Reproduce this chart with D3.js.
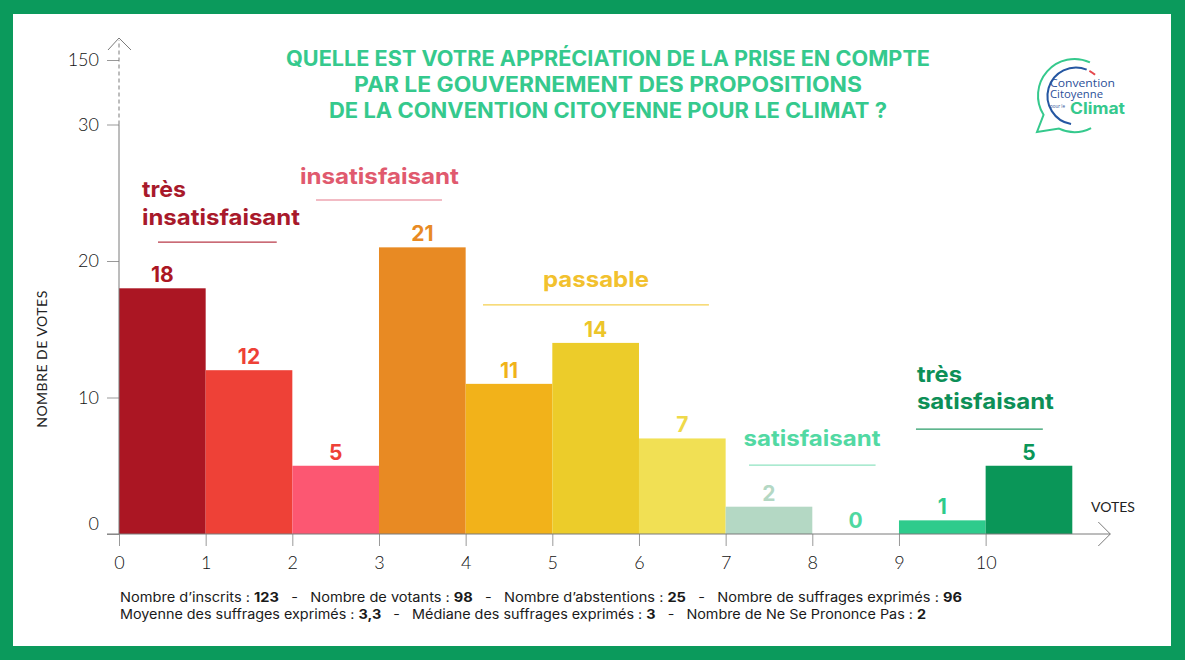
<!DOCTYPE html>
<html><head><meta charset="utf-8">
<script src="https://cdn.jsdelivr.net/npm/d3@7"></script>
<style>body{margin:0;background:#fff;} svg{display:block;}</style>
</head><body>
<svg id="c" width="1185" height="660"></svg>
<script>
// ---------- DATA ----------
const bins = [0,1,2,3,4,5,6,7,8,9,10];
const votes = [18,12,5,21,11,14,7,2,0,1,5];
const barColors = ["#ab1623","#ee4137","#fc5772","#e88a23","#f2b21a","#eccc2a","#f1e054","#b4d8c4","#4fd8a0","#2ecb8c","#0a9658"];
const labelColors = ["#ab1623","#ee4137","#ee4137","#e88a23","#f0b31a","#ecc52a","#efd94a","#b4d8c4","#4fd8a0","#2ecb8c","#0a9658"];
const yTicks = [0,10,20,30,150];
const xTicks = [0,1,2,3,4,5,6,7,8,9,10];
const titleLines = ["QUELLE EST VOTRE APPRÉCIATION DE LA PRISE EN COMPTE","PAR LE GOUVERNEMENT DES PROPOSITIONS","DE LA CONVENTION CITOYENNE POUR LE CLIMAT ?"];
const categoryNames = [["très","insatisfaisant"],["insatisfaisant"],["passable"],["satisfaisant"],["très","satisfaisant"]];
const categoryColors = ["#a8192b","#e05a6e","#f2c12e","#52d9a3","#0d8f57"];
const categoryLineColors = ["#b83a48","#eea5b1","#f4cf4e","#8fe3c1","#2a9d68"];
const footer1 = [["Nombre d’inscrits : ",0],["123",1],["   -   Nombre de votants : ",0],["98",1],["   -   Nombre d’abstentions : ",0],["25",1],["   -   Nombre de suffrages exprimés : ",0],["96",1]];
const footer2 = [["Moyenne des suffrages exprimés : ",0],["3,3",1],["   -   Médiane des suffrages exprimés : ",0],["3",1],["   -   Nombre de Ne Se Prononce Pas : ",0],["2",1]];
const yTitle = "NOMBRE DE VOTES";
const xTitle = "VOTES";
const logoLines = ["Convention","Citoyenne","pour le","Climat"];

// ---------- SETUP ----------
const svg = d3.select("#c");
const W = 1185, H = 660;
const BOLD = "Inter, 'Open Sans', sans-serif";
const LIGHT = "Lato, 'Open Sans', sans-serif";

svg.append("rect").attr("width",W).attr("height",H).attr("fill","#0b9a5c");
svg.append("rect").attr("x",13).attr("y",14).attr("width",1158).attr("height",632).attr("fill","#fff");

const x = d3.scaleLinear().domain([0,11]).range([119,1072.3]);
const y = d3.scaleLinear().domain([0,30,150]).range([534,124.5,60]);

function fit(sel, w){ sel.attr("textLength",w).attr("lengthAdjust","spacingAndGlyphs"); return sel; }

// ---------- TITLE ----------
const titleW = [644,508,558];
titleLines.forEach((t,i)=>{
  fit(svg.append("text").attr("x",608).attr("y",66+i*26).attr("text-anchor","middle")
    .attr("font-family",BOLD).attr("font-weight",700).attr("font-size",21)
    .attr("fill","#35c98d").text(t), titleW[i]);
});

// ---------- BARS ----------
const data = bins.map((b,i)=>({bin:b,v:votes[i],c:barColors[i],lc:labelColors[i]}));
svg.append("g").selectAll("rect").data(data).join("rect")
  .attr("x",d=>x(d.bin)).attr("width",d=>x(d.bin+1)-x(d.bin))
  .attr("y",d=>y(d.v)).attr("height",d=>y(0)-y(d.v)).attr("fill",d=>d.c);
svg.append("g").selectAll("text").data(data).join("text")
  .attr("x",d=>x(d.bin+0.5)).attr("y",d=>y(d.v)-6).attr("text-anchor","middle")
  .attr("font-family",BOLD).attr("font-weight",700).attr("font-size",21)
  .attr("fill",d=>d.lc).text(d=>d.v);

// ---------- AXES ----------
const axisCol = "#7a7a7a";
const gy = svg.append("g").attr("transform",`translate(${x(0)},0)`)
  .call(d3.axisLeft(y).tickValues(yTicks).tickSize(12).tickPadding(8).tickFormat(d=>d));
gy.select(".domain").remove();
gy.selectAll(".tick line").attr("stroke","#999");
gy.selectAll(".tick text").attr("font-family",LIGHT).attr("font-weight",300).attr("font-size",18).attr("fill","#111");
gy.selectAll(".tick").filter(d=>d===0).select("text").attr("dy","-0.25em");
svg.append("line").attr("x1",x(0)).attr("x2",x(0)).attr("y1",y(0)).attr("y2",y(30)).attr("stroke",axisCol);
svg.append("line").attr("x1",x(0)).attr("x2",x(0)).attr("y1",y(30)).attr("y2",y(150)-20).attr("stroke",axisCol).attr("stroke-dasharray","4,3");
svg.append("path").attr("d",`M${x(0)-11},${y(150)-10}L${x(0)},${y(150)-22}L${x(0)+12},${y(150)-10}`).attr("fill","none").attr("stroke",axisCol);

const gx = svg.append("g").attr("transform",`translate(0,${y(0)})`)
  .call(d3.axisBottom(x).tickValues(xTicks).tickSize(12).tickPadding(10));
gx.select(".domain").remove();
gx.selectAll(".tick line").attr("stroke","#999");
gx.selectAll(".tick text").attr("font-family",LIGHT).attr("font-weight",300).attr("font-size",18).attr("fill","#111");
svg.append("line").attr("x1",x(0)-12).attr("x2",x(11)+38).attr("y1",y(0)).attr("y2",y(0)).attr("stroke",axisCol);
svg.append("path").attr("d",`M${x(11)+26},${y(0)-12}L${x(11)+38},${y(0)}L${x(11)+26},${y(0)+12}`).attr("fill","none").attr("stroke",axisCol);

svg.append("text").attr("transform",`translate(47,359) rotate(-90)`).attr("text-anchor","middle")
  .attr("font-family",LIGHT).attr("font-weight",400).attr("font-size",14).attr("fill","#222")
  .attr("letter-spacing",0.5).text(yTitle);
svg.append("text").attr("x",1113).attr("y",512).attr("text-anchor","middle")
  .attr("font-family",LIGHT).attr("font-weight",400).attr("font-size",14).attr("fill","#222").text(xTitle);

// ---------- CATEGORY ANNOTATIONS ----------
const catLayout = [
  {tx:0.265, anchor:"start", base:[24.69,22.64], w:[44,158], lx:[0.45,1.82], ly:21.39},
  {tx:3.005, anchor:"middle", base:[25.64], w:[159], lx:[2.273,3.727], ly:24.47},
  {tx:5.504, anchor:"middle", base:[18.10], w:[106], lx:[4.2,6.807], ly:16.78},
  {tx:7.996, anchor:"middle", base:[6.45], w:[137], lx:[7.27,8.73], ly:5.05},
  {tx:9.207, anchor:"start", base:[11.14,9.16], w:[45,137], lx:[9.196,10.66], ly:7.69}
];
categoryNames.forEach((lines,i)=>{
  const L = catLayout[i];
  lines.forEach((t,j)=>{
    fit(svg.append("text").attr("x",x(L.tx)).attr("y",y(L.base[j])).attr("text-anchor",L.anchor)
      .attr("font-family",BOLD).attr("font-weight",700).attr("font-size",22)
      .attr("fill",categoryColors[i]).text(t), L.w[j]);
  });
  svg.append("line").attr("x1",x(L.lx[0])).attr("x2",x(L.lx[1])).attr("y1",y(L.ly)).attr("y2",y(L.ly))
    .attr("stroke",categoryLineColors[i]).attr("stroke-width",1.3);
});

// ---------- FOOTER ----------
function footerLine(parts, yy, w){
  const t = svg.append("text").attr("x",0).attr("y",0)
    .attr("font-family",BOLD).attr("font-size",13).attr("fill","#1a1a1a").attr("xml:space","preserve");
  parts.forEach(p=>t.append("tspan").attr("font-weight",p[1]?700:400).text(p[0]));
  const cw = t.node().getComputedTextLength();
  t.attr("transform",`translate(120,${yy}) scale(${w/cw},1)`);
}
footerLine(footer1, 602, 843);
footerLine(footer2, 619, 807);

// ---------- LOGO ----------
const lg = svg.append("g");
const rad = a=>a*Math.PI/180;
const cx=1074.5, cy=95.5, r=36.5;
const pt=(a)=>[cx+r*Math.cos(rad(a)), cy+r*Math.sin(rad(a))];
let p = d3.path();
let s = pt(-65); p.moveTo(s[0],s[1]);
p.arc(cx,cy,r,rad(-65),rad(148),true);
p.lineTo(1037,132);
let e = pt(115); p.lineTo(e[0],e[1]);
p.arc(cx,cy,r,rad(115),rad(63),true);
lg.append("path").attr("d",p.toString()).attr("fill","none").attr("stroke","#35c98d").attr("stroke-width",2);
const bcx=1076, bcy=96, br=28.5;
let p2 = d3.path();
p2.moveTo(bcx+br*Math.cos(rad(-68)), bcy+br*Math.sin(rad(-68)));
p2.arc(bcx,bcy,br,rad(-68),rad(100),true);
lg.append("path").attr("d",p2.toString()).attr("fill","none").attr("stroke","#2557a2").attr("stroke-width",2);
let p3 = d3.path();
p3.moveTo(bcx+br*Math.cos(rad(-62)), bcy+br*Math.sin(rad(-62)));
p3.arc(bcx,bcy,br,rad(-62),rad(-48),false);
lg.append("path").attr("d",p3.toString()).attr("fill","none").attr("stroke","#e5484d").attr("stroke-width",2);
const LF = "'Open Sans', sans-serif";
fit(lg.append("text").attr("x",1050).attr("y",86.5).attr("font-family",LF).attr("font-size",11.5).attr("fill","#2b4f99").text(logoLines[0]),65);
fit(lg.append("text").attr("x",1050).attr("y",97.5).attr("font-family",LF).attr("font-size",11.5).attr("fill","#2b4f99").text(logoLines[1]),53);
fit(lg.append("text").attr("x",1050).attr("y",107.5).attr("font-family",LF).attr("font-size",4.5).attr("fill","#2b4f99").text(logoLines[2]),15);
fit(lg.append("text").attr("x",1070).attr("y",114).attr("font-family",BOLD).attr("font-weight",700).attr("font-size",15.5).attr("fill","#35c98d").text(logoLines[3]),55);
</script>
</body></html>
